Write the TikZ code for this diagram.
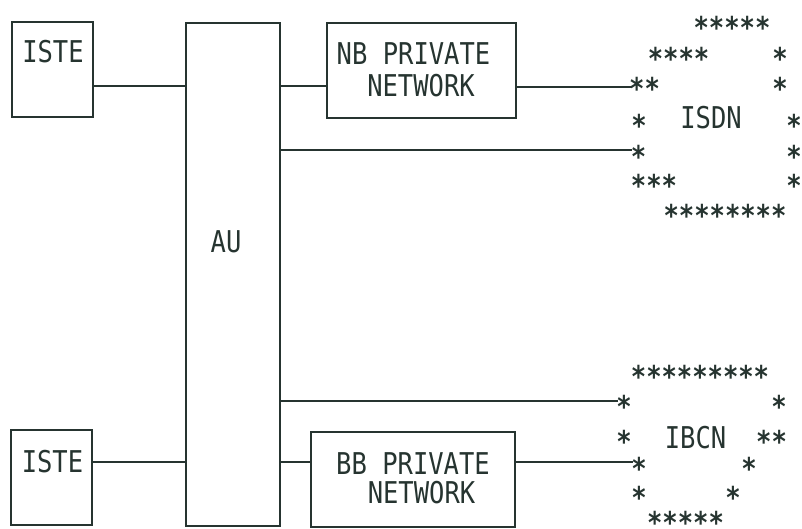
\documentclass[tikz,border=0pt]{standalone}
\usepackage{fontspec}
\newfontfamily\mono[FakeStretch=0.85]{DejaVu Sans Mono}
\definecolor{ink}{RGB}{38,52,48}
\begin{document}
\begin{tikzpicture}[x=1pt,y=-1pt,
  box/.style={draw=ink,line width=2.8pt,inner sep=0pt},
  wire/.style={draw=ink,line width=2.5pt},
  txt/.style={text=ink,font=\mono\fontsize{30}{36}\selectfont,inner sep=0pt,anchor=base},
  star/.style={txt,font=\mono\bfseries\fontsize{30}{36}\selectfont,yshift=-17.7pt}]
\useasboundingbox (0,0) rectangle (802,529);
% boxes
\node[box,minimum width=81pt,minimum height=95pt] (iste1) at (52.5,69.5) {};
\node[box,minimum width=81pt,minimum height=95pt] (iste2) at (51.5,477.5) {};
\node[box,minimum width=94pt,minimum height=503pt] (au) at (233,274.5) {};
\node[box,minimum width=189pt,minimum height=95pt] (nb) at (421.5,70.5) {};
\node[box,minimum width=204pt,minimum height=95pt] (bb) at (413,479.5) {};
% box texts
\node[txt] (iste1t) at (53,63) {ISTE};
\node[txt] (iste2t) at (52.5,472) {ISTE};
\node[txt] (aut) at (226,252) {AU};
\node[txt] (nbt1) at (413.5,65) {NB PRIVATE};
\node[txt] (nbt2) at (421,97) {NETWORK};
\node[txt] (bbt1) at (413,474) {BB PRIVATE};
\node[txt] (bbt2) at (421.5,503) {NETWORK};
% connector levels and free ends
\coordinate (yA) at (0,86);
\coordinate (yB) at (0,150);
\coordinate (yC) at (0,401);
\coordinate (yD) at (0,462);
\coordinate (isdnA) at (632,87);
\coordinate (isdnB) at (632,150);
\coordinate (ibcnA) at (618,401);
\coordinate (ibcnB) at (633,462);
% connectors
\draw[wire] (iste1.east |- yA) -- (au.west |- yA);
\draw[wire] (au.east |- yA) -- (nb.west |- yA);
\draw[wire] (nb.east |- isdnA) -- (isdnA);
\draw[wire] (au.east |- yB) -- (isdnB);
\draw[wire] (au.east |- yC) -- (ibcnA);
\draw[wire] (iste2.east |- yD) -- (au.west |- yD);
\draw[wire] (au.east |- yD) -- (bb.west |- yD);
\draw[wire] (bb.east |- ibcnB) -- (ibcnB);
% ISDN cloud
\node[txt] (isdn) at (711,129) {ISDN};
\node[star] (sa1) at (732,21) {*****};
\node[star] (sa2) at (678.5,52) {****};
\node[star] (sa3) at (780,52) {*};
\node[star] (sa4) at (644.5,82) {**};
\node[star] (sa5) at (780,82) {*};
\node[star] (sa6) at (639,119) {*};
\node[star] (sa7) at (794,119) {*};
\node[star] (sa8) at (638.5,150) {*};
\node[star] (sa9) at (794,150) {*};
\node[star] (sa10) at (654,179) {***};
\node[star] (sa11) at (794,179) {*};
\node[star] (sa12) at (725,209) {********};
% IBCN cloud
\node[txt] (ibcn) at (695.5,448) {IBCN};
\node[star] (sb1) at (700,370) {*********};
\node[star] (sb2) at (624,400) {*};
\node[star] (sb3) at (779,400) {*};
\node[star] (sb4) at (624,435) {*};
\node[star] (sb5) at (771.5,435) {**};
\node[star] (sb6) at (639,462) {*};
\node[star] (sb7) at (749,462) {*};
\node[star] (sb8) at (639,491) {*};
\node[star] (sb9) at (733,491) {*};
\node[star] (sb10) at (685.5,516) {*****};
\end{tikzpicture}
\end{document}
